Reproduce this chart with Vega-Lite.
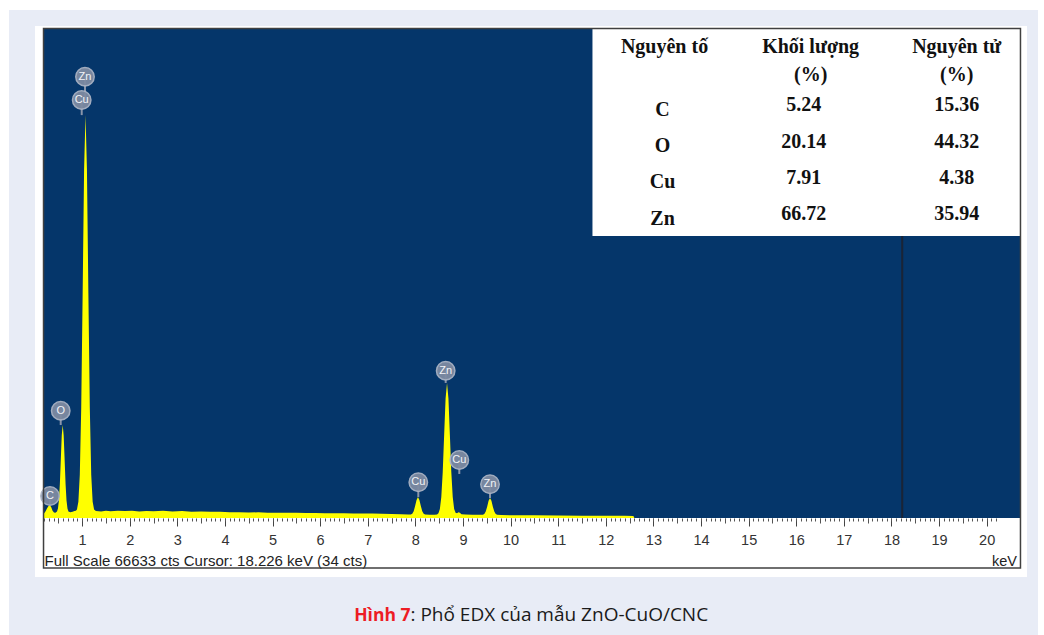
{
  "$schema": "https://vega.github.io/schema/vega-lite/v6.json",
  "width": 976,
  "height": 489,
  "autosize": {"type": "none"},
  "padding": {"left": 44, "top": 29, "right": 24, "bottom": 117},
  "background": "white",
  "config": {"view": {"stroke": null}},
  "datasets": {
    "spectrum": [
      {"keV":0.2,"cts":600},{"keV":0.23,"cts":900},{"keV":0.26,"cts":1250},{"keV":0.29,"cts":1600},{"keV":0.32,"cts":1770},{"keV":0.35,"cts":1500},{"keV":0.38,"cts":1000},{"keV":0.41,"cts":760},{"keV":0.44,"cts":720},
      {"keV":0.473,"cts":900},{"keV":0.493,"cts":1290},{"keV":0.513,"cts":2380},{"keV":0.533,"cts":4630},{"keV":0.553,"cts":7990},{"keV":0.573,"cts":11270},{"keV":0.593,"cts":12670},{"keV":0.613,"cts":11270},{"keV":0.633,"cts":7990},{"keV":0.653,"cts":4630},{"keV":0.673,"cts":2380},{"keV":0.693,"cts":1290},{"keV":0.713,"cts":900},{"keV":0.75,"cts":800},{"keV":0.8,"cts":850},{"keV":0.84,"cts":950},
      {"keV":0.87,"cts":1000},{"keV":0.892,"cts":1150},{"keV":0.922,"cts":2210},{"keV":0.952,"cts":5900},{"keV":0.982,"cts":15050},{"keV":1.012,"cts":30700},{"keV":1.042,"cts":47450},{"keV":1.072,"cts":54900},{"keV":1.102,"cts":47450},{"keV":1.132,"cts":30700},{"keV":1.162,"cts":15050},{"keV":1.192,"cts":5900},{"keV":1.222,"cts":2210},{"keV":1.252,"cts":1150},{"keV":1.29,"cts":950},
      {"keV":1.4,"cts":900},{"keV":1.5,"cts":980},{"keV":1.6,"cts":920},{"keV":1.75,"cts":1000},{"keV":1.9,"cts":940},{"keV":2.05,"cts":980},{"keV":2.2,"cts":900},{"keV":2.35,"cts":960},{"keV":2.5,"cts":920},{"keV":2.7,"cts":980},{"keV":2.9,"cts":900},{"keV":3.1,"cts":940},{"keV":3.3,"cts":860},{"keV":3.5,"cts":900},{"keV":3.7,"cts":840},{"keV":3.9,"cts":860},{"keV":4.1,"cts":800},{"keV":4.3,"cts":790},{"keV":4.5,"cts":760},{"keV":4.7,"cts":770},{"keV":4.9,"cts":730},{"keV":5.1,"cts":720},{"keV":5.3,"cts":700},{"keV":5.5,"cts":710},{"keV":5.7,"cts":680},{"keV":5.9,"cts":690},{"keV":6.1,"cts":660},{"keV":6.3,"cts":650},{"keV":6.5,"cts":640},{"keV":6.7,"cts":630},{"keV":6.9,"cts":610},{"keV":7.1,"cts":600},{"keV":7.3,"cts":580},{"keV":7.5,"cts":560},{"keV":7.7,"cts":520},{"keV":7.85,"cts":480},
      {"keV":7.905,"cts":476},{"keV":7.935,"cts":585},{"keV":7.965,"cts":927},{"keV":7.995,"cts":1624},{"keV":8.025,"cts":2462},{"keV":8.055,"cts":2860},{"keV":8.085,"cts":2462},{"keV":8.115,"cts":1624},{"keV":8.145,"cts":927},{"keV":8.175,"cts":585},{"keV":8.205,"cts":476},{"keV":8.3,"cts":455},{"keV":8.4,"cts":450},
      {"keV":8.455,"cts":490},{"keV":8.485,"cts":647},{"keV":8.515,"cts":1240},{"keV":8.545,"cts":2873},{"keV":8.575,"cts":6284},{"keV":8.605,"cts":11337},{"keV":8.635,"cts":16291},{"keV":8.665,"cts":18400},{"keV":8.695,"cts":16291},{"keV":8.725,"cts":11337},{"keV":8.755,"cts":6284},{"keV":8.785,"cts":2873},{"keV":8.815,"cts":1240},{"keV":8.845,"cts":700},{"keV":8.875,"cts":650},{"keV":8.905,"cts":800},{"keV":8.935,"cts":700},{"keV":8.97,"cts":520},{"keV":9.05,"cts":460},{"keV":9.2,"cts":450},{"keV":9.35,"cts":440},
      {"keV":9.418,"cts":445},{"keV":9.448,"cts":530},{"keV":9.478,"cts":880},{"keV":9.508,"cts":1540},{"keV":9.538,"cts":2340},{"keV":9.568,"cts":2720},{"keV":9.598,"cts":2340},{"keV":9.628,"cts":1540},{"keV":9.658,"cts":880},{"keV":9.688,"cts":530},{"keV":9.718,"cts":445},{"keV":9.8,"cts":400},{"keV":10,"cts":380},{"keV":10.5,"cts":360},{"keV":11,"cts":340},{"keV":11.5,"cts":320},{"keV":12,"cts":300},{"keV":12.4,"cts":290},{"keV":12.58,"cts":280},{"keV":12.6,"cts":0}
    ],
    "badges": [
      {"el":"Zn","keV":1.061,"badge":60134,"tip":56959},
      {"el":"Cu","keV":0.992,"badge":56959,"tip":54900},
      {"el":"O","keV":0.551,"badge":14621,"tip":12670},
      {"el":"C","keV":0.326,"badge":2998,"tip":1770},
      {"el":"Cu","keV":8.062,"badge":4865,"tip":2860},
      {"el":"Zn","keV":8.637,"badge":20072,"tip":18400},
      {"el":"Cu","keV":8.923,"badge":7903,"tip":6000},
      {"el":"Zn","keV":9.568,"badge":4592,"tip":2720}
    ],
    "table": [
      {"el":"C","mass":5.24,"atomic":15.36,"row":1},
      {"el":"O","mass":20.14,"atomic":44.32,"row":2},
      {"el":"Cu","mass":7.91,"atomic":4.38,"row":3},
      {"el":"Zn","mass":66.72,"atomic":35.94,"row":4}
    ]
  },
  "layer": [
    {
      "layer": [
        {
          "data": {"values": [{}]},
          "mark": {"type": "rect", "fill": "#e8ecf6"},
          "encoding": {
            "x": {"datum": -0.535, "type": "quantitative", "axis": null},
            "x2": {"datum": 21.078},
            "y": {"datum": -15943, "type": "quantitative", "axis": null},
            "y2": {"datum": 69223}
          }
        },
        {
          "data": {"values": [{}]},
          "mark": {"type": "rect", "fill": "#ffffff"},
          "encoding": {
            "x": {"datum": 0.011, "type": "quantitative", "axis": null},
            "x2": {"datum": 20.847},
            "y": {"datum": -8040, "type": "quantitative", "axis": null},
            "y2": {"datum": 67042}
          }
        },
        {
          "data": {"values": [{}]},
          "mark": {"type": "rect", "fill": "#05366a"},
          "encoding": {
            "x": {"datum": 0.2, "type": "quantitative",
              "axis": {"orient": "bottom", "values": [0.5,1.5,2.5,3.5,4.5,5.5,6.5,7.5,8.5,9.5,10.5,11.5,12.5,13.5,14.5,15.5,16.5,17.5,18.5,19.5],
                "domain": false, "grid": false, "labels": false, "title": null, "tickSize": 5, "tickColor": "#555555", "tickWidth": 1, "zindex": 1}},
            "x2": {"datum": 20.7},
            "y": {"datum": 0, "type": "quantitative", "axis": null},
            "y2": {"datum": 66633}
          }
        },
        {
          "data": {"name": "spectrum"},
          "mark": {"type": "area", "color": "#ffff00", "interpolate": "linear"},
          "encoding": {
            "x": {"field": "keV", "type": "quantitative",
              "scale": {"domain": [0.2, 20.7], "nice": false, "zero": false},
              "axis": {"orient": "bottom", "values": [1,2,3,4,5,6,7,8,9,10,11,12,13,14,15,16,17,18,19,20], "format": "d",
                "domain": false, "grid": false, "title": null, "tickSize": 8, "tickColor": "#444444", "tickWidth": 1,
                "labelFont": "Liberation Sans", "labelFontSize": 14.5, "labelColor": "#333333", "labelPadding": 7, "labelFlush": false, "labelOverlap": false, "zindex": 1}},
            "y": {"field": "cts", "type": "quantitative",
              "scale": {"domain": [0, 66633], "nice": false, "zero": false}, "axis": null}
          }
        },
        {
          "data": {"values": [{}]},
          "mark": {"type": "rule", "color": "#1a2436", "strokeWidth": 2},
          "encoding": {
            "x": {"datum": 18.226, "type": "quantitative", "axis": null}
          }
        },
        {
          "data": {"values": [{}]},
          "mark": {"type": "rect", "fill": "#ffffff"},
          "encoding": {
            "x": {"datum": 11.72, "type": "quantitative", "axis": null},
            "x2": {"datum": 20.7},
            "y": {"datum": 38427, "type": "quantitative", "axis": null},
            "y2": {"datum": 66633}
          }
        },
        {
          "data": {"name": "badges"},
          "mark": {"type": "rule", "color": "#8a95aa", "strokeWidth": 2},
          "encoding": {
            "x": {"field": "keV", "type": "quantitative", "axis": null},
            "y": {"field": "badge", "type": "quantitative", "axis": null},
            "y2": {"field": "tip"}
          }
        },
        {
          "data": {"name": "badges"},
          "mark": {"type": "point", "shape": "circle", "filled": true, "size": 340, "fill": "#7e8ba2", "stroke": "#aab3c4", "strokeWidth": 1.5, "opacity": 0.95},
          "encoding": {
            "x": {"field": "keV", "type": "quantitative", "axis": null},
            "y": {"field": "badge", "type": "quantitative", "axis": null}
          }
        },
        {
          "data": {"name": "badges"},
          "mark": {"type": "text", "font": "Liberation Sans", "fontSize": 11, "color": "#f2f4f8", "align": "center", "baseline": "middle"},
          "encoding": {
            "x": {"field": "keV", "type": "quantitative", "axis": null},
            "y": {"field": "badge", "type": "quantitative", "axis": null},
            "text": {"field": "el"}
          }
        },
        {
          "data": {"values": [{}]},
          "mark": {"type": "text", "text": "Full Scale 66633 cts  Cursor: 18.226 keV (34 cts)", "font": "Liberation Sans", "fontSize": 15, "color": "#222222", "align": "left", "baseline": "alphabetic"},
          "encoding": {
            "x": {"datum": 0.21, "type": "quantitative", "axis": null},
            "y": {"datum": -6473, "type": "quantitative", "axis": null}
          }
        },
        {
          "data": {"values": [{}]},
          "mark": {"type": "text", "text": "keV", "font": "Liberation Sans", "fontSize": 14.5, "color": "#222222", "align": "right", "baseline": "alphabetic"},
          "encoding": {
            "x": {"datum": 20.637, "type": "quantitative", "axis": null},
            "y": {"datum": -6473, "type": "quantitative", "axis": null}
          }
        },
        {
          "data": {"values": [{}]},
          "mark": {"type": "text", "text": "Hình 7", "font": "Open Sans", "fontWeight": "bold", "fontSize": 17.5, "color": "#ed1c24", "align": "right", "baseline": "alphabetic"},
          "encoding": {
            "x": {"datum": 7.898, "type": "quantitative", "axis": null},
            "y": {"datum": -14103, "type": "quantitative", "axis": null}
          }
        },
        {
          "data": {"values": [{}]},
          "mark": {"type": "text", "text": ": Phổ EDX của mẫu ZnO-CuO/CNC", "font": "Open Sans", "fontSize": 19, "color": "#1a1a1a", "align": "left", "baseline": "alphabetic"},
          "encoding": {
            "x": {"datum": 7.898, "type": "quantitative", "axis": null},
            "y": {"datum": -14103, "type": "quantitative", "axis": null}
          }
        },
        {
          "data": {"values": [{}]},
          "mark": {"type": "rect", "fill": null, "fillOpacity": 0, "stroke": "#404040", "strokeWidth": 1.5},
          "encoding": {
            "x": {"datum": 0.19, "type": "quantitative",
              "axis": {"orient": "bottom", "values": [0.2,0.3,0.4,0.5,0.6,0.7,0.8,0.9,1,1.1,1.2,1.3,1.4,1.5,1.6,1.7,1.8,1.9,2,2.1,2.2,2.3,2.4,2.5,2.6,2.7,2.8,2.9,3,3.1,3.2,3.3,3.4,3.5,3.6,3.7,3.8,3.9,4,4.1,4.2,4.3,4.4,4.5,4.6,4.7,4.8,4.9,5,5.1,5.2,5.3,5.4,5.5,5.6,5.7,5.8,5.9,6,6.1,6.2,6.3,6.4,6.5,6.6,6.7,6.8,6.9,7,7.1,7.2,7.3,7.4,7.5,7.6,7.7,7.8,7.9,8,8.1,8.2,8.3,8.4,8.5,8.6,8.7,8.8,8.9,9,9.1,9.2,9.3,9.4,9.5,9.6,9.7,9.8,9.9,10,10.1,10.2,10.3,10.4,10.5,10.6,10.7,10.8,10.9,11,11.1,11.2,11.3,11.4,11.5,11.6,11.7,11.8,11.9,12,12.1,12.2,12.3,12.4,12.5,12.6,12.7,12.8,12.9,13,13.1,13.2,13.3,13.4,13.5,13.6,13.7,13.8,13.9,14,14.1,14.2,14.3,14.4,14.5,14.6,14.7,14.8,14.9,15,15.1,15.2,15.3,15.4,15.5,15.6,15.7,15.8,15.9,16,16.1,16.2,16.3,16.4,16.5,16.6,16.7,16.8,16.9,17,17.1,17.2,17.3,17.4,17.5,17.6,17.7,17.8,17.9,18,18.1,18.2,18.3,18.4,18.5,18.6,18.7,18.8,18.9,19,19.1,19.2,19.3,19.4,19.5,19.6,19.7,19.8,19.9,20,20.1,20.2],
                "domain": false, "grid": false, "labels": false, "title": null, "tickSize": 3, "tickColor": "#555555", "tickWidth": 1, "zindex": 1}},
            "x2": {"datum": 20.71},
            "y": {"datum": -6813, "type": "quantitative", "axis": null},
            "y2": {"datum": 66702}
          }
        }
      ],
      "resolve": {"axis": {"x": "independent"}}
    },
    {
      "layer": [
        {
          "data": {"name": "table"},
          "mark": {"type": "text", "font": "Liberation Serif", "fontWeight": "bold", "fontSize": 20, "color": "#111111", "align": "center", "baseline": "middle", "dy": 4.5, "dx": -2},
          "encoding": {
            "x": {"datum": 1, "type": "quantitative", "scale": {"domain": [-3.247, 3.433], "nice": false, "zero": false}, "axis": null},
            "y": {"field": "row", "type": "quantitative", "scale": {"domain": [-1.115, 12.405], "reverse": true, "nice": false, "zero": false}, "axis": null},
            "text": {"field": "el"}
          }
        },
        {
          "data": {"name": "table"},
          "mark": {"type": "text", "font": "Liberation Serif", "fontWeight": "bold", "fontSize": 20, "color": "#111111", "align": "center", "baseline": "middle", "dx": -7},
          "encoding": {
            "x": {"datum": 2, "type": "quantitative", "axis": null},
            "y": {"field": "row", "type": "quantitative", "axis": null},
            "text": {"field": "mass", "format": ".2f"}
          }
        },
        {
          "data": {"name": "table"},
          "mark": {"type": "text", "font": "Liberation Serif", "fontWeight": "bold", "fontSize": 20, "color": "#111111", "align": "center", "baseline": "middle"},
          "encoding": {
            "x": {"datum": 3, "type": "quantitative", "axis": null},
            "y": {"field": "row", "type": "quantitative", "axis": null},
            "text": {"field": "atomic", "format": ".2f"}
          }
        },
        {
          "data": {"values": [{"c": 1, "t": "Nguyên tố"}, {"c": 2, "t": "Khối lượng"}, {"c": 3, "t": "Nguyên tử"}]},
          "mark": {"type": "text", "font": "Liberation Serif", "fontWeight": "bold", "fontSize": 20, "color": "#111111", "align": "center", "baseline": "middle"},
          "encoding": {
            "x": {"field": "c", "type": "quantitative", "axis": null},
            "y": {"datum": -0.626, "type": "quantitative", "axis": null},
            "text": {"field": "t"}
          }
        },
        {
          "data": {"values": [{"c": 2, "t": "(%)"}, {"c": 3, "t": "(%)"}]},
          "mark": {"type": "text", "font": "Liberation Serif", "fontWeight": "bold", "fontSize": 20, "color": "#111111", "align": "center", "baseline": "middle"},
          "encoding": {
            "x": {"field": "c", "type": "quantitative", "axis": null},
            "y": {"datum": 0.157, "type": "quantitative", "axis": null},
            "text": {"field": "t"}
          }
        }
      ]
    }
  ],
  "resolve": {"scale": {"x": "independent", "y": "independent"}}
}
